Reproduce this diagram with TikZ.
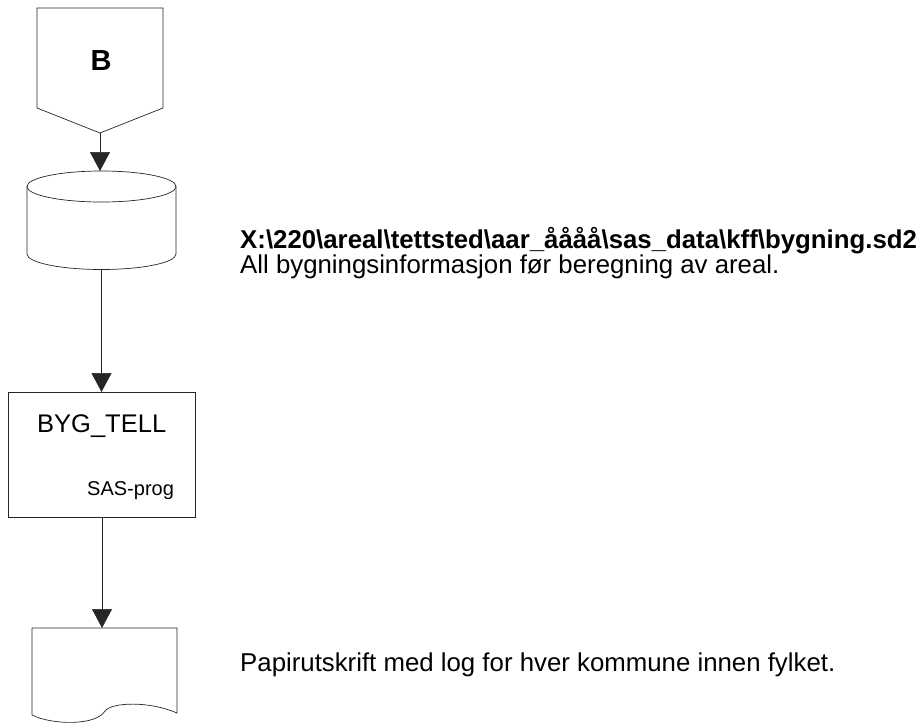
\documentclass[tikz,border=0pt]{standalone}
\usepackage{fontspec}
\setmainfont{Liberation Sans}
\usetikzlibrary{arrows.meta}
\begin{document}
\begin{tikzpicture}[x=1pt,y=-1pt,
  outline/.style={draw=black!85,line width=0.7pt},
  flow/.style={draw=black!85,line width=0.6pt,-{Triangle[length=19pt,width=20pt]}},
  lbl/.style={inner sep=0pt,anchor=base west},
  note/.style={inner sep=0pt,anchor=base west,font=\fontsize{25.8}{30}\selectfont}]
\useasboundingbox (0,0) rectangle (924,724);

% off-page connector B
\draw[outline] (37,8) -- (163,8) -- (163,108) -- (100,133) -- (37,108) -- cycle;
\coordinate (offtip) at (100,133);
\node[inner sep=0pt,anchor=base,font=\fontsize{29}{32}\bfseries] (labB) at (101,70) {B};

% data set (cylinder)
\draw[outline,fill=white] (101.5,186.5) ellipse [x radius=74.5pt, y radius=15.5pt];
\draw[outline] (27,186.5) -- (27,254) arc [start angle=180, end angle=360, x radius=74.5pt, y radius=15.5pt] -- (176,186.5);
\coordinate (cyltop) at (100,171);
\coordinate (cylbot) at (101.5,269.5);

% SAS program box
\node[outline,minimum width=187pt,minimum height=125pt,inner sep=0pt,anchor=north west] (prog) at (8,392) {};
\node[lbl,font=\fontsize{25.5}{30}\selectfont] (progname) at (37,432) {BYG\_TELL};
\node[lbl,font=\fontsize{20}{24}\selectfont] (progtype) at (87,495) {SAS-prog};

% printout (document)
\draw[outline] (32,715) -- (32,628) -- (177,628) -- (177,713)
  .. controls (150,701) and (112,702) .. (105,711)
  .. controls (96,726) and (52,725) .. (32,715);
\coordinate (doctop) at (102,628);

% connectors
\draw[flow] (offtip) -- (cyltop);
\draw[flow] (cylbot) -- (prog.north -| cylbot);
\draw[flow] (prog.south -| doctop) -- (doctop);

% descriptions
\node[lbl,font=\fontsize{25.8}{30}\bfseries] (dsname) at (240,248) {X:\textbackslash220\textbackslash areal\textbackslash tettsted\textbackslash aar\_åååå\textbackslash sas\_data\textbackslash kff\textbackslash bygning.sd2};
\node[note] (dsdesc) at (240,273) {All bygningsinformasjon før beregning av areal.};
\node[note] (docdesc) at (240,671) {Papirutskrift med log for hver kommune innen fylket.};
\end{tikzpicture}
\end{document}
